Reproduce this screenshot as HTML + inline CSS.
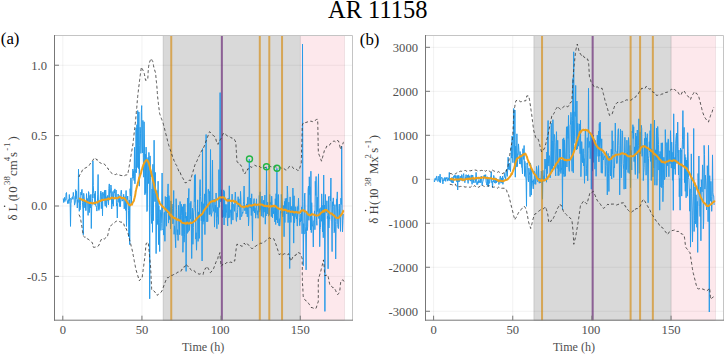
<!DOCTYPE html>
<html><head><meta charset="utf-8"><style>
html,body{margin:0;padding:0;background:#fff;width:725px;height:354px;overflow:hidden}
svg{display:block}
text{font-family:"Liberation Serif",serif}
.t{font-size:12.6px;fill:#505050}
.yl text{font-size:12.8px;fill:#444}
.yl text.sup{font-size:8.8px}
</style></head><body>
<svg width="725" height="354" viewBox="0 0 725 354">
<rect width="725" height="354" fill="#fff"/>
<text x="328" y="17.8" textLength="99.5" lengthAdjust="spacingAndGlyphs" style="font-size:25.5px;fill:#000">AR 11158</text>
<text x="0.8" y="44.2" style="font-size:16.8px;fill:#000">(a)</text>
<text x="359.8" y="44.6" style="font-size:16.8px;fill:#000">(b)</text>
<clipPath id="clipa"><rect x="54.5" y="35.5" width="298.0" height="284.7"/></clipPath>
<rect x="163.2" y="35.5" width="137.2" height="284.7" fill="#d9d9d9" stroke="#c2c2c2" stroke-width="0.8"/>
<rect x="300.4" y="35.5" width="44.3" height="284.7" fill="#fde8ec" stroke="#e8d6da" stroke-width="0.6"/>
<line x1="54.5" y1="276.38" x2="352.5" y2="276.38" stroke="#000" stroke-opacity="0.07" stroke-width="0.8"/>
<line x1="54.5" y1="206.00" x2="352.5" y2="206.00" stroke="#000" stroke-opacity="0.07" stroke-width="0.8"/>
<line x1="54.5" y1="135.62" x2="352.5" y2="135.62" stroke="#000" stroke-opacity="0.07" stroke-width="0.8"/>
<line x1="54.5" y1="65.23" x2="352.5" y2="65.23" stroke="#000" stroke-opacity="0.07" stroke-width="0.8"/>
<line x1="62.80" y1="35.5" x2="62.80" y2="320.2" stroke="#000" stroke-opacity="0.07" stroke-width="0.8"/>
<line x1="141.95" y1="35.5" x2="141.95" y2="320.2" stroke="#000" stroke-opacity="0.07" stroke-width="0.8"/>
<line x1="221.10" y1="35.5" x2="221.10" y2="320.2" stroke="#000" stroke-opacity="0.07" stroke-width="0.8"/>
<line x1="300.25" y1="35.5" x2="300.25" y2="320.2" stroke="#000" stroke-opacity="0.07" stroke-width="0.8"/>
<polyline clip-path="url(#clipa)" points="63.3,198.5 63.7,202.5 64.1,199.6 64.5,197.4 64.9,201.5 65.3,199.2 65.7,199.6 66.1,193.2 66.5,192.5 66.9,199.8 67.3,200.8 67.7,203.6 68.1,201.2 68.5,199.6 68.9,203.5 69.3,194.5 69.7,200.6 70.1,198.1 70.5,226.4 70.9,203.8 71.3,200.7 71.7,199.1 72.1,197.2 72.5,196.7 72.9,199.3 73.3,192.4 73.7,196.0 74.1,196.6 74.5,205.1 74.9,203.8 75.3,202.1 75.7,189.6 76.1,198.7 76.5,191.2 76.9,199.7 77.3,208.0 77.7,199.7 78.1,202.4 78.5,169.2 78.9,197.0 79.3,211.3 79.7,199.3 80.1,209.8 80.5,205.4 80.9,192.2 81.3,195.1 81.7,189.8 82.1,189.3 82.5,202.6 82.9,209.1 83.3,234.8 83.7,193.3 84.1,196.7 84.5,203.2 84.9,207.9 85.3,201.3 85.7,210.5 86.1,210.6 86.5,193.6 86.9,203.0 87.3,198.5 87.7,202.8 88.1,215.4 88.5,191.6 88.9,193.0 89.3,212.6 89.7,197.1 90.1,195.2 90.5,207.8 90.9,194.3 91.3,228.5 91.7,206.3 92.1,204.6 92.5,198.5 92.9,161.0 93.3,185.5 93.7,193.5 94.1,198.2 94.5,193.7 94.9,204.8 95.3,191.1 95.7,205.8 96.1,206.0 96.5,207.6 96.9,211.1 97.3,204.0 97.7,194.9 98.1,174.5 98.5,209.8 98.9,210.4 99.3,209.7 99.7,201.3 100.1,201.2 100.5,192.7 100.9,191.1 101.3,208.7 101.7,196.3 102.1,192.7 102.5,215.8 102.9,192.2 103.3,193.6 103.7,195.9 104.1,200.7 104.5,190.4 104.9,204.0 105.3,206.2 105.7,190.0 106.1,200.4 106.5,207.4 106.9,196.7 107.3,200.5 107.7,195.4 108.1,201.5 108.5,204.8 108.9,188.4 109.3,183.9 109.7,199.1 110.1,192.5 110.5,192.7 110.9,185.0 111.3,187.7 111.7,208.9 112.1,200.6 112.5,203.7 112.9,191.5 113.3,206.2 113.7,195.0 114.1,190.3 114.5,193.0 114.9,188.9 115.3,199.1 115.7,197.5 116.1,190.0 116.5,206.0 116.9,203.6 117.3,218.0 117.7,202.6 118.1,194.0 118.5,198.3 118.9,202.4 119.3,195.6 119.7,206.6 120.1,200.7 120.5,206.6 120.9,192.7 121.3,190.2 121.7,194.5 122.1,201.2 122.5,199.8 122.9,200.7 123.3,198.6 123.7,194.3 124.1,208.9 124.5,208.2 124.9,196.6 125.3,198.3 125.7,210.4 126.1,190.5 126.5,226.4 126.9,200.2 127.3,199.8 127.7,196.0 128.1,201.9 128.5,210.3 128.9,237.0 129.3,200.0 129.7,244.6 130.1,188.7 130.5,195.9 130.9,177.9 131.3,203.9 131.7,194.8 132.1,179.4 132.5,176.5 132.9,169.0 133.3,178.1 133.7,170.9 134.1,180.5 134.5,147.3 134.9,183.8 135.3,173.7 135.7,168.3 136.1,128.0 136.5,172.7 136.9,124.7 137.3,167.5 137.7,110.5 138.1,114.1 138.5,168.6 138.9,112.0 139.3,186.2 139.7,145.6 140.1,127.2 140.5,133.3 140.9,153.4 141.3,112.6 141.7,105.6 142.1,146.8 142.5,153.0 142.9,120.4 143.3,157.1 143.7,177.2 144.1,121.8 144.5,147.0 144.9,194.8 145.3,154.1 145.7,193.3 146.1,147.1 146.5,165.0 146.9,211.5 147.3,210.4 147.7,160.8 148.1,157.4 148.5,183.5 148.9,152.4 149.3,162.6 149.7,298.8 150.1,155.9 150.5,177.3 150.9,182.2 151.3,213.8 151.7,223.5 152.1,189.0 152.5,232.3 152.9,164.3 153.3,220.7 153.7,192.3 154.1,140.2 154.5,183.2 154.9,201.6 155.3,172.4 155.7,202.7 156.1,253.6 156.5,225.0 156.9,190.5 157.3,218.4 157.7,224.5 158.1,181.2 158.5,244.6 158.9,205.7 159.3,222.3 159.7,251.5 160.1,209.8 160.5,213.0 160.9,230.4 161.3,223.6 161.7,206.9 162.1,173.0 162.5,208.0 162.9,229.8 163.3,228.9 163.7,235.1 164.1,212.3 164.5,212.4 164.9,241.3 165.3,196.5 165.7,205.8 166.1,219.0 166.5,226.2 166.9,197.0 167.3,212.9 167.7,193.6 168.1,183.9 168.5,223.1 168.9,195.6 169.3,199.3 169.7,219.6 170.1,207.6 170.5,228.8 170.9,200.9 171.3,213.6 171.7,205.3 172.1,204.1 172.5,208.3 172.9,223.9 173.3,218.6 173.7,190.5 174.1,234.3 174.5,225.9 174.9,229.8 175.3,238.3 175.7,247.7 176.1,198.7 176.5,209.5 176.9,232.5 177.3,234.9 177.7,229.6 178.1,240.5 178.5,205.4 178.9,212.0 179.3,219.3 179.7,234.7 180.1,201.5 180.5,221.5 180.9,213.8 181.3,204.2 181.7,215.4 182.1,235.7 182.5,206.7 182.9,252.3 183.3,236.5 183.7,204.2 184.1,242.2 184.5,234.8 184.9,203.9 185.3,218.2 185.7,212.4 186.1,271.4 186.5,216.2 186.9,219.1 187.3,233.4 187.7,198.0 188.1,232.2 188.5,196.2 188.9,188.5 189.3,230.6 189.7,225.8 190.1,203.1 190.5,218.9 190.9,201.3 191.3,218.3 191.7,258.5 192.1,223.2 192.5,208.2 192.9,244.3 193.3,227.5 193.7,212.1 194.1,208.3 194.5,175.4 194.9,201.8 195.3,174.5 195.7,239.1 196.1,232.7 196.5,250.2 196.9,236.1 197.3,211.8 197.7,199.8 198.1,241.4 198.5,211.9 198.9,218.3 199.3,238.4 199.7,189.9 200.1,179.6 200.5,196.5 200.9,201.9 201.3,220.8 201.7,201.9 202.1,261.0 202.5,148.6 202.9,224.3 203.3,203.7 203.7,221.4 204.1,220.1 204.5,193.9 204.9,234.6 205.3,205.2 205.7,186.9 206.1,134.5 206.5,206.5 206.9,222.0 207.3,207.1 207.7,221.5 208.1,189.3 208.5,189.3 208.9,194.7 209.3,214.6 209.7,191.3 210.1,214.4 210.5,149.5 210.9,194.3 211.3,216.3 211.7,213.6 212.1,212.7 212.5,160.1 212.9,207.2 213.3,208.6 213.7,211.4 214.1,199.0 214.5,227.1 214.9,209.6 215.3,205.1 215.7,212.5 216.1,193.0 216.5,218.8 216.9,228.7 217.3,207.3 217.7,216.5 218.1,215.3 218.5,224.3 218.9,169.6 219.3,207.4 219.7,201.9 220.1,92.6 220.5,201.8 220.9,199.9 221.3,189.8 221.7,194.4 222.1,217.2 222.5,217.7 222.9,210.1 223.3,216.9 223.7,189.9 224.1,225.0 224.5,191.4 224.9,216.3 225.3,204.4 225.7,217.7 226.1,213.5 226.5,212.6 226.9,204.4 227.3,218.2 227.7,225.9 228.1,198.1 228.5,218.1 228.9,216.5 229.3,185.8 229.7,217.5 230.1,213.8 230.5,210.2 230.9,209.7 231.3,224.2 231.7,203.3 232.1,194.1 232.5,202.7 232.9,220.1 233.3,205.1 233.7,204.3 234.1,206.2 234.5,211.3 234.9,200.5 235.3,192.0 235.7,198.8 236.1,219.5 236.5,221.4 236.9,213.0 237.3,217.1 237.7,209.3 238.1,196.7 238.5,206.7 238.9,198.8 239.3,204.7 239.7,207.1 240.1,219.9 240.5,191.4 240.9,199.2 241.3,216.7 241.7,216.5 242.1,214.5 242.5,212.2 242.9,213.2 243.3,204.5 243.7,201.1 244.1,186.0 244.5,208.5 244.9,210.8 245.3,207.5 245.7,206.3 246.1,214.0 246.5,203.9 246.9,206.7 247.3,216.9 247.7,197.3 248.1,196.9 248.5,225.9 248.9,218.1 249.3,159.2 249.7,197.5 250.1,208.1 250.5,198.2 250.9,204.7 251.3,215.6 251.7,193.8 252.1,220.1 252.5,241.0 252.9,205.3 253.3,211.2 253.7,203.0 254.1,198.6 254.5,212.8 254.9,207.6 255.3,209.8 255.7,218.2 256.1,205.9 256.5,198.8 256.9,212.5 257.3,214.8 257.7,210.7 258.1,218.3 258.5,203.9 258.9,212.2 259.3,195.4 259.7,211.5 260.1,191.8 260.5,209.9 260.9,208.9 261.3,216.2 261.7,198.6 262.1,196.0 262.5,206.9 262.9,216.6 263.3,217.4 263.7,200.2 264.1,212.2 264.5,208.1 264.9,195.1 265.3,224.2 265.7,206.2 266.1,216.0 266.5,166.9 266.9,211.9 267.3,213.9 267.7,202.2 268.1,212.1 268.5,216.2 268.9,207.9 269.3,215.2 269.7,194.5 270.1,202.8 270.5,204.3 270.9,202.2 271.3,216.6 271.7,196.2 272.1,203.5 272.5,217.9 272.9,207.1 273.3,210.8 273.7,213.9 274.1,207.5 274.5,213.8 274.9,221.9 275.3,198.7 275.7,224.5 276.1,193.7 276.5,220.0 276.9,168.4 277.3,215.3 277.7,223.0 278.1,194.8 278.5,194.6 278.9,225.6 279.3,218.7 279.7,226.1 280.1,222.9 280.5,211.3 280.9,213.1 281.3,194.4 281.7,199.3 282.1,204.1 282.5,215.4 282.9,216.9 283.3,205.5 283.7,207.7 284.1,236.7 284.5,201.4 284.9,222.5 285.3,198.5 285.7,210.6 286.1,205.7 286.5,198.3 286.9,214.0 287.3,186.0 287.7,194.8 288.1,222.6 288.5,210.9 288.9,202.1 289.3,219.5 289.7,268.5 290.1,196.9 290.5,209.4 290.9,222.4 291.3,210.7 291.7,206.3 292.1,211.4 292.5,215.6 292.9,188.0 293.3,203.1 293.7,243.1 294.1,195.8 294.5,222.8 294.9,216.9 295.3,216.8 295.7,206.7 296.1,209.7 296.5,219.0 296.9,216.8 297.3,226.1 297.7,206.5 298.1,209.5 298.5,198.2 298.9,212.7 299.3,217.4 299.7,225.6 300.1,219.7 300.5,222.0 300.9,213.8 301.3,220.9 301.7,206.9 302.1,233.8 302.5,44.0 302.9,201.6 303.3,265.7 303.7,223.6 304.1,234.1 304.5,195.0 304.9,193.1 305.3,226.9 305.7,234.2 306.1,269.9 306.5,231.2 306.9,211.7 307.3,230.5 307.7,226.2 308.1,189.4 308.5,186.0 308.9,220.3 309.3,176.8 309.7,194.7 310.1,186.8 310.5,229.9 310.9,171.2 311.3,232.6 311.7,202.7 312.1,216.3 312.5,226.2 312.9,225.9 313.3,247.0 313.7,220.8 314.1,220.8 314.5,210.9 314.9,229.7 315.3,181.3 315.7,195.4 316.1,176.5 316.5,220.3 316.9,225.3 317.3,197.2 317.7,211.6 318.1,189.9 318.5,173.9 318.9,218.6 319.3,208.6 319.7,246.7 320.1,229.2 320.5,227.5 320.9,207.6 321.3,221.3 321.7,193.9 322.1,204.4 322.5,232.0 322.9,205.3 323.3,237.7 323.7,175.0 324.1,224.7 324.5,205.1 324.9,311.4 325.3,194.4 325.7,202.2 326.1,212.3 326.5,212.7 326.9,200.8 327.3,218.6 327.7,216.0 328.1,268.8 328.5,196.6 328.9,228.0 329.3,217.4 329.7,218.8 330.1,196.0 330.5,200.8 330.9,178.0 331.3,220.6 331.7,220.4 332.1,251.6 332.5,201.8 332.9,206.2 333.3,197.9 333.7,206.6 334.1,232.7 334.5,231.4 334.9,204.6 335.3,221.5 335.7,259.0 336.1,224.4 336.5,198.9 336.9,206.2 337.3,191.9 337.7,224.7 338.1,228.2 338.5,228.6 338.9,208.3 339.3,204.0 339.7,218.0 340.1,217.7 340.5,231.4 340.9,198.2 341.3,204.5 341.7,146.3 342.1,208.9 342.5,232.0 342.9,220.6 343.3,214.0" fill="none" stroke="#289be9" stroke-width="1.0" stroke-linejoin="round"/>
<line x1="171.24" y1="35.5" x2="171.24" y2="320.2" stroke="#d48a10" stroke-opacity="0.65" stroke-width="2"/>
<line x1="259.80" y1="35.5" x2="259.80" y2="320.2" stroke="#d48a10" stroke-opacity="0.65" stroke-width="2"/>
<line x1="269.30" y1="35.5" x2="269.30" y2="320.2" stroke="#d48a10" stroke-opacity="0.65" stroke-width="2"/>
<line x1="282.05" y1="35.5" x2="282.05" y2="320.2" stroke="#d48a10" stroke-opacity="0.65" stroke-width="2"/>
<line x1="221.89" y1="35.5" x2="221.89" y2="320.2" stroke="#6a2a78" stroke-opacity="0.68" stroke-width="2"/>
<polyline points="79.0,177.0 79.6,175.2 80.2,174.2 80.8,172.9 81.5,172.3 82.1,170.8 82.7,169.8 83.3,168.5 84.7,168.3 86.2,167.6 87.6,166.7 89.0,165.7 89.8,164.4 90.6,163.1 91.4,162.0 92.2,161.1 93.0,160.2 93.8,158.6 94.6,158.0 95.7,158.4 96.8,160.1 98.0,159.9 99.1,161.8 100.2,162.9 101.5,163.5 102.7,163.1 104.0,164.0 104.8,164.4 105.6,165.7 106.4,167.5 107.2,168.1 108.0,168.2 108.8,170.3 109.8,170.9 110.9,172.5 111.9,173.4 113.0,174.0 114.0,174.5 115.4,174.6 116.8,173.9 118.2,175.1 119.7,175.1 121.1,175.5 122.5,175.6 123.8,176.2 125.2,175.2 126.5,174.9 127.8,174.5 128.0,173.2 128.2,171.8 128.5,170.5 128.7,169.1 128.9,167.8 129.2,166.4 129.4,165.1 129.6,163.8 129.8,162.4 130.1,161.1 130.3,159.7 130.5,158.4 130.7,157.0 131.0,155.7 131.2,154.3 131.4,153.0 131.6,151.7 131.9,150.3 132.1,149.0 132.3,147.7 132.6,146.3 132.8,145.0 133.0,143.7 133.1,142.3 133.3,141.0 133.4,139.6 133.6,138.3 133.7,136.9 133.9,135.6 134.0,134.2 134.2,132.9 134.4,131.6 134.5,130.2 134.7,128.9 134.8,127.5 135.0,126.2 135.1,124.8 135.3,123.5 135.4,122.1 135.6,120.8 135.7,119.5 135.8,118.1 135.9,116.8 136.1,115.4 136.2,114.1 136.3,112.7 136.4,111.4 136.5,110.1 136.6,108.7 136.8,107.4 136.9,106.0 137.0,104.7 137.1,103.4 137.2,102.0 137.3,100.7 137.5,99.3 137.6,98.0 137.7,96.6 137.8,95.3 138.0,94.0 138.1,92.7 138.3,91.4 138.4,90.0 138.6,88.7 138.7,87.4 138.9,86.1 139.1,84.8 139.2,83.5 139.4,82.2 139.5,80.8 139.7,79.5 139.8,78.2 140.0,76.9 140.2,75.5 140.4,74.1 140.6,72.7 140.8,71.2 141.0,69.8 141.2,68.4 141.4,67.0 142.1,68.7 142.8,69.8 143.5,71.5 144.2,73.3 144.5,74.7 144.8,76.1 145.0,77.6 145.3,79.0 145.6,80.4 147.7,79.7 147.8,78.3 147.9,76.9 148.0,75.5 148.1,74.1 148.1,72.6 148.2,71.2 148.3,69.8 148.4,68.4 148.6,66.7 148.9,65.1 149.1,63.4 149.7,62.0 150.2,60.6 150.8,59.3 151.3,58.5 152.0,60.3 152.7,61.3 153.0,62.7 153.3,64.1 153.5,65.6 153.8,67.0 154.1,68.4 154.6,69.8 155.0,71.2 155.5,72.6 155.6,74.0 155.8,75.4 155.9,76.9 156.1,78.3 156.2,79.7 156.3,81.1 156.5,82.5 156.6,84.0 156.8,85.4 156.9,86.8 157.0,88.2 157.1,89.6 157.2,91.0 157.3,92.5 157.4,93.9 157.5,95.3 157.6,96.7 157.8,98.1 157.9,99.5 158.1,100.9 158.3,102.3 158.4,103.7 158.6,105.1 158.8,106.4 158.9,107.8 159.1,109.2 159.3,110.6 159.4,112.0 159.6,113.4 160.0,114.6 160.5,115.9 160.9,117.1 161.3,118.3 161.8,119.5 162.2,120.8 162.7,122.0 163.1,123.2 163.5,124.6 163.8,126.0 164.2,127.4 164.6,128.8 164.9,130.3 165.3,131.7 165.6,133.1 166.0,134.5 166.4,135.9 166.7,137.3 167.1,138.7 167.4,140.2 167.8,141.6 168.1,143.0 168.5,144.4 168.9,145.7 169.4,147.0 169.8,148.4 170.2,149.7 170.7,151.0 171.1,152.3 171.5,153.7 172.0,155.0 172.4,156.3 172.9,157.8 173.5,158.5 174.0,160.7 174.5,161.4 175.1,161.8 175.6,164.1 176.1,164.9 176.7,165.5 177.2,167.8 177.7,168.5 178.3,169.7 178.8,171.2 179.4,172.7 180.1,172.3 180.7,174.0 181.3,175.6 181.9,177.1 182.6,177.8 183.2,178.8 183.8,179.9 184.5,181.6 185.1,182.8 186.4,182.6 187.8,181.0 189.1,180.1 190.4,180.7 190.8,179.4 191.2,178.0 191.5,176.7 191.9,175.3 192.3,174.0 192.7,172.6 193.1,171.3 193.5,169.9 193.8,168.6 194.2,167.2 194.6,165.9 195.1,164.5 195.7,163.3 196.2,161.8 196.8,161.4 197.3,160.3 197.8,158.4 198.4,157.3 198.9,156.3 199.6,155.3 200.3,153.5 201.0,151.6 201.7,151.1 202.4,149.3 203.1,148.7 203.8,147.2 204.3,145.9 204.8,144.6 205.2,143.3 205.7,142.0 206.2,140.7 206.7,139.4 207.1,138.2 207.6,136.9 208.1,135.6 208.6,134.3 209.0,133.0 209.5,131.7 210.4,132.4 211.4,133.5 212.3,134.8 213.2,135.4 214.2,136.0 215.1,137.3 215.7,138.2 216.3,141.1 216.8,142.2 217.4,142.2 218.0,144.4 218.6,142.6 219.2,142.2 219.9,140.3 220.5,139.3 221.1,138.5 221.7,136.9 222.4,135.5 223.0,134.0 223.6,133.0 224.8,133.7 226.1,134.6 227.3,136.1 228.6,136.4 229.8,136.5 231.0,137.8 232.3,138.1 233.5,138.7 234.3,139.0 235.0,140.8 235.8,142.0 235.9,143.4 236.0,144.7 236.0,146.1 236.1,147.5 236.2,148.9 236.3,150.2 236.4,151.6 236.4,153.0 236.5,154.3 236.6,155.7 236.7,157.1 236.7,158.5 236.8,159.8 236.9,161.2 237.9,162.8 239.0,163.0 240.1,164.9 241.1,165.4 241.6,166.5 242.2,167.9 242.7,168.4 243.2,171.5 243.7,171.8 244.3,173.3 244.8,174.0 245.5,172.6 246.2,170.9 246.9,171.2 247.7,168.9 248.4,169.1 249.1,167.0 250.5,166.7 251.9,167.4 253.4,165.9 254.8,165.1 256.2,166.2 257.6,165.6 258.8,166.1 260.0,166.7 261.1,167.9 262.3,167.4 263.5,168.4 264.9,167.5 266.3,167.3 267.8,166.8 269.2,166.5 270.6,166.5 272.0,167.0 273.3,166.6 274.6,167.0 275.9,166.8 277.3,167.5 278.6,168.1 279.9,167.7 281.2,168.0 282.5,168.7 283.9,168.5 285.2,169.7 286.5,170.1 287.6,169.3 288.6,167.6 289.6,166.1 290.7,165.9 291.8,166.5 292.8,167.4 293.8,168.9 294.9,169.0 296.3,169.1 297.8,170.6 299.2,170.1 299.6,168.6 300.0,167.1 300.5,165.7 300.9,164.2 301.3,162.7 301.3,161.4 301.4,160.1 301.4,158.8 301.4,157.5 301.5,156.2 301.5,154.9 301.5,153.6 301.6,152.3 301.6,151.0 301.6,149.7 301.7,148.4 301.7,147.1 301.7,145.8 301.8,144.5 301.8,143.2 301.9,141.9 301.9,140.6 301.9,139.3 302.0,138.0 302.0,136.7 302.0,135.4 302.1,134.1 302.1,132.8 302.1,131.5 302.2,130.2 302.2,128.9 302.2,127.6 302.3,126.3 302.3,125.0 303.0,123.6 304.3,121.8 305.7,122.6 307.0,122.1 308.3,121.7 309.7,121.3 311.0,121.1 312.4,121.7 313.7,120.3 315.0,120.6 316.4,119.5 317.7,119.3 317.7,120.6 317.7,122.0 317.8,123.3 317.8,124.6 317.8,126.0 317.8,127.3 317.9,128.7 317.9,130.0 317.9,131.3 317.9,132.7 318.0,134.0 318.0,135.3 318.0,136.7 318.0,138.0 318.1,139.3 318.1,140.7 318.1,142.0 318.1,143.3 318.2,144.7 318.2,146.0 318.2,147.4 318.2,148.7 318.3,150.0 318.3,151.4 318.3,152.7 318.8,154.1 319.4,155.5 319.9,156.9 320.4,158.4 321.0,159.8 321.5,161.2 321.9,159.9 322.2,158.6 322.6,157.3 322.9,156.0 323.3,154.7 323.6,153.4 324.0,152.1 324.3,150.8 324.7,149.5 325.8,148.4 326.8,146.0 327.8,146.3 328.9,145.3 330.0,144.7 331.0,142.9 332.1,142.3 333.1,141.3 334.2,141.0 335.6,142.0 337.1,140.4 338.5,141.0 338.9,142.4 339.2,143.8 339.6,145.2 339.9,146.7 340.2,148.1 340.6,149.5 341.1,147.8 341.6,145.4 342.1,144.8 342.7,144.6 343.2,142.5 343.7,142.1" fill="none" stroke="#383838" stroke-width="0.85" stroke-dasharray="3 2.4"/>
<polyline points="79.0,214.6 79.8,216.3 80.5,218.0 80.7,219.4 80.9,220.8 81.1,222.1 81.4,223.5 81.6,224.9 81.8,226.3 82.0,227.6 82.2,229.0 82.4,230.4 82.7,231.8 82.9,233.1 83.1,234.5 83.3,235.9 84.7,237.2 86.0,237.0 87.2,238.8 88.3,239.1 89.5,240.5 90.5,241.2 91.5,241.9 92.5,243.0 92.7,244.3 92.8,245.7 93.0,247.0 94.3,247.3 95.7,247.0 97.0,247.0 98.0,246.4 99.0,245.0 99.5,243.7 100.0,242.3 100.5,241.0 101.8,238.7 103.0,238.5 104.4,239.0 105.9,237.6 107.3,237.3 107.6,235.9 107.9,234.6 108.2,233.2 108.5,231.9 108.9,230.5 109.2,229.1 109.5,227.8 109.8,226.4 110.9,225.9 111.9,224.5 113.0,223.5 114.1,223.1 115.1,222.4 116.2,221.0 117.8,221.2 119.3,221.5 120.9,222.2 122.5,222.1 123.1,222.9 123.8,223.8 124.4,226.2 125.1,226.9 125.7,228.5 126.3,228.6 126.8,230.5 127.4,231.8 128.0,233.3 128.3,234.6 128.6,235.9 129.0,237.2 129.3,238.5 129.6,239.8 129.9,241.1 130.2,242.4 130.6,243.6 130.9,244.9 131.2,246.2 131.5,247.5 131.9,248.8 132.2,250.1 132.5,251.4 132.7,252.7 133.0,254.0 133.2,255.3 133.5,256.6 133.7,257.9 134.0,259.2 134.2,260.4 134.4,261.7 134.7,263.0 134.9,264.3 135.2,265.6 135.4,266.9 135.7,268.2 135.9,269.5 136.3,270.8 136.7,272.0 137.0,273.3 137.4,274.5 137.8,275.8 138.2,277.0 138.5,278.3 138.9,279.5 139.3,280.8 140.7,279.0 142.0,278.5 142.2,277.2 142.4,275.8 142.5,274.5 142.7,273.2 142.9,271.9 143.1,270.5 143.2,269.2 143.4,267.9 143.6,266.5 143.8,265.2 143.9,263.9 144.1,262.5 144.3,261.2 144.5,259.9 144.6,258.6 144.8,257.2 145.0,255.9 145.1,254.5 145.2,253.1 145.4,251.8 145.5,250.4 145.6,249.0 145.7,247.6 145.9,246.3 146.0,244.9 146.1,243.5 148.3,242.3 148.4,243.6 148.5,244.9 148.7,246.2 148.8,247.5 148.9,248.9 149.0,250.2 149.1,251.5 149.3,252.8 149.4,254.1 149.5,255.4 149.6,256.7 149.8,258.0 149.9,259.3 150.0,260.6 150.1,262.0 150.2,263.3 150.4,264.6 150.5,265.9 150.6,267.2 150.7,268.5 150.7,269.9 150.8,271.2 150.9,272.5 150.9,273.8 151.0,275.2 151.1,276.5 151.1,277.8 151.2,279.2 151.2,280.5 151.3,281.8 151.4,283.2 151.4,284.5 151.5,285.8 151.6,287.1 151.6,288.5 151.7,289.8 152.8,289.7 154.0,291.3 155.1,292.0 155.9,293.6 156.6,294.1 157.4,295.4 158.5,293.9 159.7,293.4 160.8,292.5 161.9,291.0 162.4,289.7 162.9,288.4 163.4,287.1 163.8,285.8 164.3,284.5 164.8,283.2 165.3,281.9 165.9,280.3 166.5,279.4 167.1,277.7 168.4,277.7 169.7,276.3 170.9,275.4 172.2,275.4 173.5,274.6 174.7,274.2 176.0,274.1 177.2,272.3 178.4,272.1 179.7,271.5 180.9,271.4 181.7,269.4 182.4,269.4 183.2,268.5 183.9,266.8 184.7,266.9 185.4,265.5 186.2,264.0 187.0,265.4 187.9,266.3 188.7,267.7 189.6,267.5 190.4,269.3 191.6,270.3 192.9,271.0 194.1,270.4 195.3,272.3 196.6,272.7 197.8,273.5 199.1,274.2 200.4,273.8 201.8,274.3 203.1,274.6 203.4,273.3 203.7,271.9 204.0,270.6 204.8,269.7 205.6,268.0 206.4,267.8 207.2,266.4 207.8,267.6 208.5,269.2 209.1,269.9 209.8,272.0 210.4,272.7 211.2,272.0 212.0,270.5 212.8,269.9 213.6,268.5 214.1,267.1 214.7,265.7 215.2,264.2 215.7,262.8 216.3,261.4 216.8,260.0 217.3,259.5 217.8,258.5 218.4,255.4 218.9,255.6 219.4,254.1 219.9,252.6 220.0,254.0 220.1,255.4 220.2,256.7 220.3,258.1 220.4,259.5 220.6,260.9 220.7,262.3 220.8,263.6 220.9,265.0 221.0,266.4 222.1,265.3 223.1,263.7 224.2,263.2 225.8,263.6 227.3,262.0 228.9,262.7 230.5,262.1 231.9,262.5 233.3,260.6 234.7,261.1 234.9,259.7 235.0,258.4 235.2,257.0 235.3,255.7 235.5,254.3 235.6,253.0 235.8,251.6 236.0,250.1 236.2,248.6 236.5,247.2 236.7,245.7 236.9,244.2 238.2,244.6 239.6,244.5 240.9,245.9 242.2,246.3 243.2,245.5 244.2,243.1 245.6,244.9 247.1,243.5 248.5,245.2 249.6,245.7 250.6,247.2 251.6,248.5 252.7,248.4 253.8,247.8 254.8,246.4 255.8,246.2 256.9,245.2 258.1,244.7 259.4,244.0 260.6,243.2 261.8,243.3 263.1,242.7 264.3,242.0 265.4,241.1 266.4,240.2 267.5,238.8 268.5,238.4 269.6,237.8 271.0,238.8 272.5,238.4 273.9,238.9 274.4,240.3 274.9,241.7 275.4,243.1 276.0,244.5 276.5,245.9 277.0,247.3 277.4,248.8 277.9,250.3 278.3,251.7 278.8,253.2 279.2,254.7 280.9,253.6 282.6,254.8 284.3,253.7 285.7,254.0 287.2,254.9 288.6,253.7 289.0,255.2 289.4,256.7 289.9,258.1 290.3,259.6 290.7,261.1 291.5,259.8 292.3,258.2 293.1,256.3 293.9,255.8 294.9,255.5 296.0,255.1 297.0,252.6 298.8,252.7 300.5,253.8 300.9,255.1 301.4,256.4 301.8,257.6 302.2,258.9 302.2,260.2 302.2,261.5 302.2,262.8 302.2,264.1 302.3,265.4 302.3,266.7 302.3,268.0 302.3,269.3 302.3,270.6 302.3,271.9 302.3,273.2 302.3,274.5 302.4,275.8 302.4,277.1 302.4,278.4 302.4,279.7 302.4,281.0 302.5,282.3 302.5,283.7 302.6,285.0 302.7,286.3 302.8,287.7 302.9,289.0 302.9,290.3 303.0,291.7 303.1,293.0 303.1,294.3 303.2,295.7 303.3,297.0 304.4,299.3 305.5,300.0 306.5,301.8 307.6,302.1 308.7,303.6 309.5,304.7 310.2,305.9 311.0,307.4 312.7,307.8 314.3,308.7 316.0,308.4 316.5,307.0 316.9,305.6 317.4,304.3 317.8,302.9 318.3,301.5 318.3,300.1 318.3,298.8 318.3,297.4 318.3,296.1 318.3,294.7 318.3,293.3 318.3,292.0 318.3,290.6 318.3,289.2 318.3,287.9 318.3,286.5 318.3,285.1 318.3,283.8 318.3,282.4 318.3,281.1 318.3,279.7 318.7,278.4 319.0,277.2 319.4,275.9 319.8,274.6 320.2,273.3 320.5,272.1 320.9,270.8 321.2,269.4 321.5,268.1 321.9,266.7 322.2,265.4 322.5,264.0 322.9,262.6 323.2,261.3 323.5,259.9 323.6,261.2 323.7,262.5 323.9,263.8 324.0,265.2 324.1,266.5 324.2,267.8 324.3,269.1 324.4,270.4 324.5,271.8 324.7,273.1 324.8,274.4 324.9,275.7 326.4,275.3 327.8,274.8 328.1,276.2 328.4,277.6 328.7,279.0 328.9,280.5 329.2,281.9 329.5,283.3 329.8,284.7 330.8,286.2 331.8,286.4 332.8,287.8 333.7,287.5 334.7,288.8 335.7,290.6 336.4,292.4 337.0,292.9 337.7,294.6 338.7,293.4 339.7,291.6 339.8,290.2 340.0,288.8 340.1,287.4 340.3,285.9 340.4,284.5 340.6,283.1 340.7,281.7 341.7,281.0 342.7,279.7 344.1,281.7" fill="none" stroke="#383838" stroke-width="0.85" stroke-dasharray="3 2.4"/>
<polyline points="79.0,198.9 79.6,198.5 80.5,199.0 81.5,199.4 82.7,200.2 83.9,200.0 85.0,201.1 86.1,201.2 87.1,202.1 88.1,202.4 89.1,202.9 90.2,202.9 91.2,202.8 92.2,203.3 93.2,203.5 94.2,202.7 95.3,202.9 96.4,202.3 97.5,202.5 98.5,201.3 99.4,201.2 100.2,201.1 101.2,200.7 101.8,199.8 103.5,200.1 104.2,199.8 105.1,199.6 106.1,199.4 107.2,199.3 108.3,198.4 109.5,199.3 110.7,198.2 111.9,197.5 113.1,198.1 114.2,198.5 115.3,197.7 116.2,198.3 117.5,198.3 118.7,197.4 119.8,196.9 120.9,197.4 121.9,198.4 122.8,197.9 123.7,197.9 124.6,198.4 125.4,199.6 126.2,200.5 126.9,201.9 127.6,203.0 128.2,203.4 128.8,204.6 129.4,204.9 130.0,205.5 130.7,204.9 131.3,204.3 132.0,204.6 132.6,202.8 133.2,201.8 133.7,201.2 134.2,199.3 134.5,198.1 134.7,197.3 134.9,196.2 135.1,195.9 135.3,194.4 135.4,194.1 135.6,192.3 135.8,191.3 136.0,190.1 136.2,189.4 136.5,188.1 136.7,187.6 137.0,186.0 137.2,185.4 137.5,184.9 137.8,183.2 138.0,182.4 138.3,181.8 138.6,180.4 138.9,178.9 139.2,177.4 139.5,177.9 139.8,176.3 140.1,175.6 140.4,174.0 140.7,173.9 141.1,172.4 141.4,171.1 141.8,169.6 142.2,168.9 142.5,167.4 142.9,166.5 143.3,164.9 143.7,164.4 144.0,163.7 144.4,162.4 144.7,162.2 145.0,161.8 146.1,160.2 147.1,160.1 148.1,161.4 148.4,162.5 148.6,162.3 148.9,163.5 149.1,164.3 149.4,165.4 149.6,166.4 149.9,167.1 150.2,169.3 150.4,169.8 150.7,170.4 151.0,171.8 151.3,173.3 151.5,174.4 151.7,174.6 152.0,176.3 152.2,176.5 152.5,177.7 152.7,179.3 153.0,180.7 153.2,181.1 153.5,182.1 153.7,183.7 154.0,184.0 154.2,185.5 154.5,186.5 154.7,187.8 155.0,188.5 155.3,189.2 155.5,190.4 155.8,190.9 156.1,192.7 156.5,193.3 156.8,194.3 157.1,195.6 157.4,196.8 157.8,198.0 158.1,198.7 158.4,199.9 158.7,200.9 159.0,201.4 159.4,201.8 159.7,203.2 160.4,204.3 161.1,204.6 161.9,205.8 162.6,206.9 163.3,207.0 164.0,208.0 164.8,208.4 165.7,209.7 166.5,210.2 167.2,210.8 168.0,211.9 168.7,212.1 169.2,213.1 169.8,214.9 170.5,214.7 171.3,216.3 172.0,216.1 172.9,217.2 173.8,218.3 174.7,218.1 175.7,218.2 176.7,219.8 177.7,219.3 178.6,219.9 179.5,220.6 180.4,220.6 181.3,222.1 182.2,222.8 183.1,222.9 184.1,223.2 185.0,223.2 186.1,223.8 187.2,222.5 188.3,223.5 189.4,223.5 190.4,222.5 191.5,223.1 192.5,222.5 193.4,222.0 194.3,221.3 195.1,220.7 196.0,219.8 196.8,218.4 197.6,217.9 198.3,217.1 198.9,216.5 199.8,215.5 200.4,215.6 201.0,215.1 202.0,214.0 202.5,213.6 203.0,212.7 203.6,211.2 204.2,210.2 204.8,209.3 205.4,208.7 206.1,207.5 206.8,206.9 207.4,206.3 208.1,204.7 208.7,204.5 209.3,203.4 210.3,202.2 211.2,201.6 212.2,201.5 213.1,200.6 214.0,201.2 214.9,201.2 215.7,199.9 216.6,199.6 217.5,199.5 218.4,198.4 219.2,197.8 220.1,197.2 221.0,197.5 221.8,197.4 222.7,197.2 223.6,197.3 224.5,197.8 225.4,199.6 226.3,199.8 227.3,200.8 228.3,200.7 229.3,200.2 230.4,200.8 231.5,201.2 232.5,200.5 233.6,200.9 234.7,202.0 235.5,201.2 236.4,202.0 237.2,203.4 238.0,203.8 238.8,204.0 239.7,204.6 240.5,205.9 241.4,206.6 242.2,206.8 243.3,206.8 244.3,207.2 245.4,206.6 246.5,206.0 247.6,206.7 248.8,205.3 250.0,205.5 250.9,205.4 251.9,205.8 252.9,204.9 253.9,204.9 255.0,204.2 256.0,204.9 257.1,204.8 258.1,204.8 259.1,204.3 260.0,204.7 261.1,204.4 262.2,204.8 263.2,205.2 264.2,206.0 265.2,205.7 266.1,206.2 267.1,206.1 268.0,206.3 269.1,206.3 270.2,206.4 271.3,206.6 272.3,205.8 273.3,206.3 274.2,205.6 275.0,206.1 275.9,206.3 276.4,207.2 278.0,208.1 278.7,208.8 279.5,208.7 280.4,209.3 281.3,209.0 282.4,209.4 283.5,210.3 284.6,209.4 285.7,210.0 286.8,210.5 287.9,211.4 288.9,210.8 289.8,211.5 290.7,211.9 292.0,211.6 293.2,211.8 294.4,212.6 295.5,212.0 296.5,212.0 297.5,212.7 298.4,212.2 299.2,212.8 300.5,212.1 301.4,210.5 302.3,210.5 303.4,210.3 304.1,210.4 304.9,211.6 305.8,211.4 306.7,212.4 307.5,213.6 308.4,214.8 309.1,214.6 309.7,215.4 310.9,215.1 312.0,214.0 312.8,214.5 313.8,214.5 314.9,215.1 316.0,215.7 317.2,215.4 318.3,215.3 319.1,214.8 319.9,214.2 320.7,213.1 321.5,212.4 322.3,212.0 323.1,210.9 323.9,211.7 324.7,210.0 325.6,210.4 326.5,210.0 327.3,210.9 328.2,211.4 329.1,212.2 330.0,213.4 331.0,213.4 331.9,213.6 332.8,214.8 333.8,215.2 334.8,216.2 335.8,217.5 336.8,217.8 337.7,218.1 338.5,217.9 339.2,217.3 339.9,216.1 340.6,215.6 341.3,214.6 341.9,214.0 342.4,213.0 342.9,211.8 343.4,210.6 343.7,210.3" fill="none" stroke="#efa01a" stroke-width="2.0" stroke-linejoin="round"/>
<circle cx="249.5" cy="159" r="3.0" fill="none" stroke="#22b545" stroke-width="1.4"/>
<circle cx="266.5" cy="166.7" r="3.0" fill="none" stroke="#22b545" stroke-width="1.4"/>
<circle cx="277" cy="168.2" r="3.0" fill="none" stroke="#22b545" stroke-width="1.4"/>
<line x1="54.5" y1="35.5" x2="352.5" y2="35.5" stroke="#c4c4c4" stroke-width="1"/>
<line x1="352.5" y1="35.5" x2="352.5" y2="320.2" stroke="#c4c4c4" stroke-width="1"/>
<line x1="54.5" y1="35.0" x2="54.5" y2="320.7" stroke="#777" stroke-width="1"/>
<line x1="54.0" y1="320.2" x2="353.0" y2="320.2" stroke="#777" stroke-width="1"/>
<line x1="54.5" y1="276.38" x2="59.0" y2="276.38" stroke="#777" stroke-width="1"/>
<line x1="54.5" y1="206.00" x2="59.0" y2="206.00" stroke="#777" stroke-width="1"/>
<line x1="54.5" y1="135.62" x2="59.0" y2="135.62" stroke="#777" stroke-width="1"/>
<line x1="54.5" y1="65.23" x2="59.0" y2="65.23" stroke="#777" stroke-width="1"/>
<line x1="62.80" y1="320.2" x2="62.80" y2="315.7" stroke="#777" stroke-width="1"/>
<line x1="141.95" y1="320.2" x2="141.95" y2="315.7" stroke="#777" stroke-width="1"/>
<line x1="221.10" y1="320.2" x2="221.10" y2="315.7" stroke="#777" stroke-width="1"/>
<line x1="300.25" y1="320.2" x2="300.25" y2="315.7" stroke="#777" stroke-width="1"/>
<text x="47.0" y="280.7" text-anchor="end" class="t">-0.5</text>
<text x="47.0" y="210.3" text-anchor="end" class="t">0.0</text>
<text x="47.0" y="139.9" text-anchor="end" class="t">0.5</text>
<text x="47.0" y="69.5" text-anchor="end" class="t">1.0</text>
<text x="62.80" y="334.0" text-anchor="middle" class="t">0</text>
<text x="141.95" y="334.0" text-anchor="middle" class="t">50</text>
<text x="220.10" y="334.0" text-anchor="middle" class="t">100</text>
<text x="300.25" y="334.0" text-anchor="middle" class="t">150</text>
<clipPath id="clipb"><rect x="425.5" y="35.5" width="298.0" height="284.7"/></clipPath>
<rect x="534.0" y="35.5" width="137.2" height="284.7" fill="#d9d9d9" stroke="#c2c2c2" stroke-width="0.8"/>
<rect x="671.2" y="35.5" width="44.3" height="284.7" fill="#fde8ec" stroke="#e8d6da" stroke-width="0.6"/>
<line x1="425.5" y1="311.28" x2="723.5" y2="311.28" stroke="#000" stroke-opacity="0.07" stroke-width="0.8"/>
<line x1="425.5" y1="267.28" x2="723.5" y2="267.28" stroke="#000" stroke-opacity="0.07" stroke-width="0.8"/>
<line x1="425.5" y1="223.29" x2="723.5" y2="223.29" stroke="#000" stroke-opacity="0.07" stroke-width="0.8"/>
<line x1="425.5" y1="179.30" x2="723.5" y2="179.30" stroke="#000" stroke-opacity="0.07" stroke-width="0.8"/>
<line x1="425.5" y1="135.31" x2="723.5" y2="135.31" stroke="#000" stroke-opacity="0.07" stroke-width="0.8"/>
<line x1="425.5" y1="91.32" x2="723.5" y2="91.32" stroke="#000" stroke-opacity="0.07" stroke-width="0.8"/>
<line x1="425.5" y1="47.32" x2="723.5" y2="47.32" stroke="#000" stroke-opacity="0.07" stroke-width="0.8"/>
<line x1="433.60" y1="35.5" x2="433.60" y2="320.2" stroke="#000" stroke-opacity="0.07" stroke-width="0.8"/>
<line x1="512.75" y1="35.5" x2="512.75" y2="320.2" stroke="#000" stroke-opacity="0.07" stroke-width="0.8"/>
<line x1="591.90" y1="35.5" x2="591.90" y2="320.2" stroke="#000" stroke-opacity="0.07" stroke-width="0.8"/>
<line x1="671.05" y1="35.5" x2="671.05" y2="320.2" stroke="#000" stroke-opacity="0.07" stroke-width="0.8"/>
<polyline clip-path="url(#clipb)" points="434.1,180.6 434.5,182.0 434.9,178.5 435.3,178.2 435.7,180.1 436.1,180.2 436.5,176.3 436.9,176.1 437.3,180.7 437.7,181.4 438.1,181.3 438.5,178.7 438.9,176.0 439.3,179.5 439.7,182.2 440.1,174.2 440.5,182.6 440.9,179.0 441.3,178.0 441.7,177.2 442.1,177.6 442.5,179.7 442.9,183.9 443.3,179.8 443.7,180.8 444.1,178.1 444.5,177.6 444.9,180.7 445.3,177.6 445.7,181.4 446.1,178.1 446.5,179.0 446.9,177.2 447.3,178.4 447.7,181.1 448.1,179.0 448.5,177.9 448.9,180.3 449.3,172.4 449.7,180.6 450.1,178.0 450.5,180.4 450.9,181.5 451.3,179.9 451.7,182.5 452.1,177.2 452.5,182.9 452.9,181.9 453.3,182.9 453.7,175.9 454.1,176.9 454.5,175.3 454.9,178.1 455.3,178.5 455.7,175.3 456.1,175.9 456.5,181.6 456.9,180.4 457.3,175.8 457.7,190.0 458.1,175.2 458.5,181.6 458.9,175.6 459.3,181.7 459.7,178.3 460.1,178.0 460.5,176.3 460.9,180.6 461.3,179.0 461.7,174.6 462.1,175.9 462.5,181.1 462.9,179.7 463.3,175.5 463.7,173.6 464.1,178.2 464.5,181.8 464.9,182.7 465.3,179.9 465.7,176.5 466.1,174.6 466.5,179.7 466.9,180.1 467.3,175.1 467.7,177.8 468.1,183.4 468.5,174.7 468.9,180.1 469.3,179.0 469.7,175.8 470.1,180.8 470.5,181.0 470.9,177.3 471.3,174.9 471.7,181.1 472.1,184.3 472.5,175.0 472.9,175.5 473.3,182.7 473.7,178.1 474.1,182.4 474.5,182.0 474.9,182.5 475.3,182.5 475.7,178.5 476.1,172.4 476.5,178.1 476.9,184.6 477.3,182.2 477.7,184.4 478.1,181.1 478.5,182.9 478.9,179.5 479.3,182.4 479.7,181.1 480.1,182.8 480.5,178.6 480.9,182.7 481.3,176.1 481.7,177.9 482.1,185.5 482.5,183.0 482.9,181.3 483.3,179.8 483.7,177.1 484.1,175.3 484.5,177.0 484.9,174.8 485.3,177.7 485.7,174.7 486.1,182.0 486.5,183.5 486.9,185.0 487.3,176.7 487.7,185.5 488.1,180.3 488.5,186.7 488.9,177.6 489.3,183.4 489.7,183.0 490.1,179.5 490.5,178.1 490.9,175.9 491.3,171.7 491.7,182.5 492.1,181.7 492.5,187.7 492.9,180.9 493.3,181.9 493.7,175.4 494.1,177.0 494.5,182.9 494.9,182.3 495.3,183.3 495.7,177.9 496.1,178.0 496.5,182.7 496.9,180.8 497.3,181.6 497.7,179.0 498.1,181.0 498.5,182.2 498.9,184.5 499.3,182.8 499.7,181.5 500.1,176.6 500.5,176.1 500.9,183.2 501.3,182.4 501.7,177.9 502.1,183.0 502.5,176.1 502.9,184.3 503.3,179.2 503.7,178.2 504.1,177.5 504.5,173.3 504.9,176.7 505.3,176.9 505.7,180.0 506.1,170.6 506.5,169.5 506.9,173.8 507.3,176.4 507.7,169.2 508.1,157.2 508.5,169.1 508.9,169.0 509.3,169.8 509.7,163.1 510.1,168.0 510.5,171.5 510.9,160.9 511.3,146.6 511.7,158.1 512.1,136.0 512.5,156.6 512.9,162.7 513.3,144.9 513.7,108.5 514.1,143.0 514.5,168.1 514.9,110.0 515.3,177.2 515.7,146.1 516.1,167.1 516.5,164.1 516.9,133.8 517.3,166.7 517.7,153.8 518.1,154.4 518.5,143.9 518.9,149.7 519.3,161.1 519.7,164.0 520.1,151.5 520.5,156.6 520.9,164.2 521.3,154.4 521.7,167.6 522.1,168.1 522.5,173.9 522.9,148.7 523.3,158.2 523.7,159.4 524.1,145.5 524.5,176.3 524.9,161.3 525.3,165.2 525.7,177.1 526.1,179.0 526.5,206.3 526.9,163.0 527.3,162.7 527.7,165.3 528.1,178.4 528.5,181.8 528.9,168.1 529.3,171.8 529.7,175.2 530.1,196.7 530.5,163.1 530.9,166.3 531.3,195.1 531.7,169.7 532.1,181.9 532.5,180.8 532.9,186.1 533.3,188.9 533.7,179.6 534.1,184.2 534.5,171.4 534.9,173.2 535.3,179.2 535.7,184.4 536.1,177.7 536.5,166.4 536.9,170.1 537.3,180.4 537.7,181.7 538.1,180.3 538.5,165.6 538.9,177.6 539.3,183.2 539.7,178.1 540.1,181.4 540.5,182.9 540.9,179.8 541.3,171.1 541.7,173.8 542.1,178.4 542.5,199.2 542.9,170.3 543.3,181.1 543.7,181.2 544.1,175.8 544.5,180.0 544.9,159.1 545.3,168.8 545.7,163.9 546.1,159.0 546.5,182.2 546.9,152.0 547.3,173.6 547.7,136.7 548.1,120.5 548.5,163.1 548.9,166.1 549.3,155.6 549.7,157.5 550.1,177.9 550.5,176.4 550.9,150.8 551.3,123.3 551.7,169.4 552.1,140.9 552.5,171.8 552.9,119.7 553.3,140.1 553.7,166.1 554.1,134.3 554.5,134.8 554.9,142.3 555.3,167.1 555.7,175.9 556.1,146.7 556.5,131.7 556.9,165.8 557.3,168.5 557.7,140.3 558.1,175.7 558.5,165.2 558.9,175.4 559.3,149.0 559.7,157.2 560.1,171.6 560.5,149.1 560.9,173.5 561.3,168.1 561.7,169.6 562.1,160.0 562.5,209.7 562.9,138.9 563.3,174.1 563.7,137.9 564.1,176.7 564.5,139.9 564.9,157.5 565.3,176.3 565.7,158.7 566.1,147.9 566.5,126.8 566.9,167.0 567.3,136.2 567.7,126.5 568.1,138.4 568.5,115.4 568.9,167.9 569.3,171.4 569.7,153.5 570.1,125.6 570.5,124.2 570.9,112.3 571.3,116.7 571.7,158.7 572.1,171.3 572.5,120.8 572.9,78.5 573.3,172.8 573.7,51.8 574.1,143.3 574.5,136.2 574.9,111.8 575.3,116.4 575.7,85.4 576.1,144.3 576.5,149.8 576.9,101.0 577.3,149.1 577.7,123.3 578.1,144.6 578.5,146.2 578.9,132.6 579.3,123.9 579.7,138.6 580.1,153.7 580.5,120.3 580.9,176.7 581.3,162.7 581.7,141.6 582.1,150.7 582.5,162.7 582.9,149.9 583.3,148.8 583.7,166.0 584.1,158.6 584.5,183.3 584.9,153.4 585.3,130.5 585.7,132.0 586.1,175.9 586.5,168.4 586.9,163.9 587.3,137.7 587.7,180.9 588.1,150.2 588.5,88.3 588.9,147.5 589.3,145.7 589.7,141.4 590.1,158.7 590.5,154.0 590.9,132.8 591.3,189.2 591.7,139.7 592.1,137.6 592.5,171.1 592.9,137.4 593.3,135.0 593.7,162.4 594.1,138.9 594.5,142.9 594.9,169.2 595.3,140.4 595.7,144.2 596.1,176.3 596.5,147.5 596.9,147.9 597.3,135.1 597.7,146.8 598.1,156.4 598.5,131.0 598.9,161.9 599.3,123.5 599.7,156.2 600.1,122.0 600.5,139.0 600.9,146.2 601.3,172.7 601.7,138.8 602.1,173.3 602.5,170.4 602.9,153.4 603.3,159.9 603.7,158.8 604.1,156.9 604.5,157.1 604.9,155.4 605.3,176.4 605.7,165.7 606.1,153.3 606.5,151.3 606.9,166.5 607.3,194.9 607.7,166.0 608.1,153.4 608.5,173.8 608.9,191.5 609.3,157.7 609.7,156.2 610.1,161.5 610.5,175.9 610.9,164.9 611.3,149.1 611.7,179.0 612.1,130.7 612.5,153.9 612.9,140.9 613.3,166.7 613.7,177.5 614.1,166.3 614.5,168.0 614.9,151.6 615.3,123.0 615.7,151.5 616.1,151.2 616.5,163.2 616.9,163.7 617.3,162.9 617.7,140.1 618.1,129.9 618.5,128.7 618.9,145.7 619.3,158.8 619.7,194.9 620.1,167.7 620.5,129.2 620.9,151.7 621.3,177.8 621.7,164.6 622.1,130.8 622.5,132.3 622.9,151.9 623.3,163.8 623.7,169.8 624.1,189.2 624.5,154.7 624.9,137.3 625.3,152.3 625.7,189.0 626.1,153.1 626.5,169.5 626.9,140.2 627.3,151.2 627.7,155.9 628.1,172.6 628.5,137.5 628.9,143.2 629.3,173.5 629.7,156.5 630.1,145.4 630.5,187.7 630.9,150.3 631.3,154.3 631.7,170.0 632.1,131.2 632.5,133.0 632.9,124.7 633.3,138.5 633.7,126.7 634.1,161.6 634.5,146.9 634.9,163.3 635.3,174.5 635.7,133.0 636.1,155.0 636.5,136.3 636.9,149.8 637.3,130.0 637.7,178.5 638.1,154.0 638.5,145.3 638.9,118.8 639.3,173.3 639.7,142.6 640.1,131.9 640.5,153.8 640.9,151.3 641.3,125.3 641.7,128.6 642.1,156.3 642.5,145.7 642.9,146.7 643.3,180.6 643.7,172.6 644.1,167.7 644.5,138.4 644.9,162.8 645.3,132.2 645.7,141.1 646.1,175.2 646.5,137.9 646.9,140.7 647.3,133.7 647.7,174.1 648.1,202.8 648.5,158.6 648.9,155.9 649.3,141.7 649.7,151.8 650.1,130.6 650.5,161.4 650.9,123.8 651.3,180.5 651.7,148.9 652.1,153.7 652.5,152.1 652.9,176.9 653.3,155.3 653.7,168.0 654.1,133.4 654.5,120.1 654.9,185.2 655.3,153.2 655.7,149.8 656.1,159.7 656.5,128.2 656.9,185.3 657.3,170.1 657.7,126.5 658.1,136.3 658.5,144.3 658.9,170.1 659.3,154.2 659.7,210.2 660.1,151.4 660.5,159.0 660.9,186.9 661.3,142.9 661.7,187.7 662.1,182.7 662.5,142.8 662.9,201.7 663.3,185.3 663.7,157.4 664.1,157.3 664.5,179.7 664.9,178.3 665.3,129.6 665.7,146.2 666.1,154.4 666.5,176.9 666.9,142.6 667.3,165.8 667.7,146.0 668.1,138.9 668.5,139.5 668.9,176.7 669.3,150.7 669.7,152.5 670.1,163.6 670.5,130.7 670.9,146.8 671.3,168.1 671.7,142.1 672.1,152.6 672.5,180.3 672.9,152.2 673.3,210.3 673.7,113.8 674.1,169.1 674.5,157.6 674.9,160.7 675.3,174.5 675.7,143.2 676.1,136.4 676.5,133.0 676.9,163.5 677.3,153.3 677.7,122.1 678.1,146.8 678.5,175.0 678.9,150.0 679.3,196.8 679.7,178.5 680.1,210.2 680.5,148.0 680.9,152.1 681.3,149.8 681.7,196.1 682.1,149.8 682.5,139.3 682.9,110.6 683.3,148.6 683.7,144.6 684.1,127.4 684.5,182.6 684.9,154.5 685.3,191.3 685.7,157.5 686.1,197.8 686.5,160.0 686.9,166.0 687.3,196.2 687.7,132.7 688.1,151.7 688.5,177.7 688.9,179.6 689.3,189.6 689.7,211.2 690.1,188.9 690.5,247.1 690.9,216.7 691.3,153.9 691.7,193.7 692.1,210.2 692.5,241.9 692.9,215.8 693.3,196.8 693.7,128.5 694.1,231.5 694.5,220.6 694.9,187.0 695.3,186.8 695.7,224.0 696.1,194.8 696.5,212.0 696.9,227.3 697.3,201.4 697.7,252.4 698.1,173.5 698.5,190.0 698.9,156.0 699.3,206.0 699.7,206.2 700.1,216.5 700.5,187.1 700.9,240.8 701.3,179.7 701.7,186.0 702.1,191.8 702.5,164.9 702.9,169.7 703.3,228.8 703.7,221.9 704.1,145.4 704.5,154.5 704.9,189.1 705.3,175.2 705.7,180.1 706.1,187.1 706.5,209.9 706.9,199.6 707.3,165.7 707.7,175.6 708.1,221.7 708.5,145.4 708.9,179.6 709.3,312.0 709.7,175.7 710.1,196.7 710.5,201.1 710.9,181.4 711.3,196.3 711.7,211.3 712.1,199.3 712.5,154.9 712.9,192.7 713.3,196.0 713.7,195.8 714.1,205.0" fill="none" stroke="#289be9" stroke-width="1.0" stroke-linejoin="round"/>
<line x1="542.04" y1="35.5" x2="542.04" y2="320.2" stroke="#d48a10" stroke-opacity="0.65" stroke-width="2"/>
<line x1="630.60" y1="35.5" x2="630.60" y2="320.2" stroke="#d48a10" stroke-opacity="0.65" stroke-width="2"/>
<line x1="640.10" y1="35.5" x2="640.10" y2="320.2" stroke="#d48a10" stroke-opacity="0.65" stroke-width="2"/>
<line x1="652.85" y1="35.5" x2="652.85" y2="320.2" stroke="#d48a10" stroke-opacity="0.65" stroke-width="2"/>
<line x1="592.69" y1="35.5" x2="592.69" y2="320.2" stroke="#6a2a78" stroke-opacity="0.68" stroke-width="2"/>
<polyline points="449.8,173.6 451.3,173.6 452.8,174.6 454.3,174.1 455.4,174.1 456.6,172.8 457.7,171.9 459.0,171.9 460.3,171.2 461.6,171.3 462.9,170.7 464.2,170.6 465.6,170.5 466.9,171.4 468.2,170.8 469.5,170.7 470.8,170.8 472.2,170.3 473.5,170.1 474.9,170.0 476.2,170.2 477.5,171.0 478.9,170.7 480.2,170.7 481.5,170.4 482.8,170.6 484.1,169.9 485.5,171.4 486.8,170.0 488.1,170.7 489.4,170.9 490.7,172.3 492.1,169.9 493.4,170.7 494.7,171.3 496.0,171.9 497.4,172.3 498.7,171.6 500.1,172.8 501.4,173.2 502.8,173.6 503.9,172.9 505.1,170.8 506.2,171.3 506.8,169.8 507.3,168.3 507.9,166.8 508.1,165.4 508.3,164.0 508.5,162.6 508.7,161.2 509.0,159.9 509.2,158.5 509.4,157.1 509.6,155.7 509.8,154.3 510.0,153.0 510.2,151.7 510.5,150.4 510.7,149.1 510.9,147.8 511.1,146.5 511.4,145.1 511.6,143.8 511.8,142.5 512.0,141.2 512.3,139.9 512.5,138.6 512.7,137.3 512.8,136.0 512.8,134.6 512.9,133.3 512.9,132.0 513.0,130.7 513.1,129.3 513.1,128.0 513.2,126.7 513.2,125.3 513.3,124.0 513.4,122.7 513.4,121.3 513.5,120.0 513.5,118.7 513.6,117.4 513.7,116.0 513.7,114.7 513.8,113.4 513.8,112.0 513.9,110.7 514.2,109.3 514.5,107.9 514.8,106.5 515.0,105.0 515.3,103.6 515.6,102.2 515.9,100.8 517.9,99.9 519.1,100.7 520.3,101.7 521.6,101.6 522.8,101.8 524.3,100.9 525.8,100.8 526.1,99.2 526.5,97.5 526.8,95.9 528.7,95.9 529.0,97.5 529.4,99.2 529.7,100.8 529.9,102.2 530.1,103.6 530.3,105.0 530.5,106.4 530.7,107.8 530.9,109.1 531.1,110.5 531.3,111.9 531.5,113.3 531.7,114.7 531.9,116.0 532.0,117.3 532.2,118.7 532.4,120.0 532.5,121.3 532.7,122.6 532.9,123.9 533.0,125.2 533.2,126.5 533.4,127.9 533.5,129.2 533.7,130.5 534.1,131.9 534.5,133.3 534.9,134.7 535.3,136.1 535.7,137.5 536.7,138.1 537.6,138.0 538.6,140.4 538.9,141.7 539.3,143.1 539.6,144.4 539.9,145.7 540.3,147.1 540.6,148.4 541.1,150.2 541.6,151.9 542.4,151.1 543.2,150.6 544.0,149.0 544.8,147.6 545.1,146.3 545.4,145.1 545.8,143.8 546.1,142.5 546.4,141.2 546.7,140.0 547.0,138.7 547.4,137.4 547.7,136.2 548.0,134.9 548.3,133.6 548.5,132.2 548.8,130.9 549.1,129.6 549.3,128.3 549.6,127.0 549.9,125.6 550.1,124.3 550.4,123.0 550.7,121.7 550.9,120.3 551.2,119.0 551.8,116.1 552.4,116.2 553.1,115.2 553.7,113.7 554.3,112.7 554.9,112.0 555.6,109.2 556.2,108.5 556.9,107.9 557.5,106.3 558.6,107.9 559.6,108.5 560.7,109.5 561.8,109.0 562.8,107.7 563.9,106.3 565.5,105.6 567.2,106.8 568.8,106.0 569.5,104.5 570.3,102.6 571.0,102.5 571.8,101.0 571.9,99.7 572.0,98.4 572.0,97.1 572.1,95.8 572.2,94.5 572.3,93.2 572.4,91.8 572.4,90.5 572.5,89.2 572.6,87.9 572.7,86.6 572.8,85.3 572.8,84.0 572.9,82.7 573.0,81.4 573.1,80.1 573.1,78.8 573.2,77.4 573.3,76.1 573.4,74.8 573.5,73.5 573.5,72.2 573.6,70.9 573.7,69.6 573.8,68.3 574.0,66.9 574.1,65.6 574.3,64.2 574.4,62.9 574.6,61.5 574.7,60.2 574.8,58.9 575.0,57.5 575.1,56.2 575.3,54.8 575.4,53.5 575.6,52.1 575.7,50.8 576.0,49.4 576.3,48.1 576.7,46.7 577.0,45.4 577.3,44.0 577.6,45.5 578.0,47.0 578.4,48.4 578.7,49.9 579.3,52.1 579.9,52.8 580.4,54.0 581.0,54.7 581.6,55.8 582.9,55.1 584.3,57.5 585.6,57.8 586.6,59.2 587.5,58.9 588.5,61.7 588.6,63.0 588.7,64.3 588.8,65.7 588.8,67.0 588.9,68.3 589.0,69.6 589.1,70.9 589.2,72.2 589.2,73.5 589.3,74.9 589.4,76.2 589.5,77.5 590.0,78.4 590.5,79.5 591.0,81.8 591.5,82.4 592.2,83.7 593.0,85.0 593.7,86.2 594.4,87.3 596.0,87.0 597.7,87.0 599.3,88.5 600.7,88.4 602.1,88.3 602.4,89.6 602.7,90.9 603.0,92.2 603.3,93.5 603.7,94.8 604.0,96.1 604.3,97.4 604.6,98.7 604.9,100.0 605.3,101.4 605.7,102.8 606.2,104.2 606.6,105.6 607.0,107.0 607.4,108.4 607.8,109.8 608.2,111.2 608.7,112.6 609.1,114.0 609.5,115.4 610.8,114.8 612.0,114.6 612.4,113.2 612.9,111.7 613.3,110.3 613.7,108.9 614.2,107.4 614.6,106.0 615.4,104.9 616.2,103.7 617.0,102.7 618.4,102.3 619.8,102.7 621.2,102.3 622.6,101.7 624.0,101.9 625.3,100.5 626.7,99.8 628.0,100.1 629.4,100.5 630.7,100.2 631.7,99.8 632.7,98.2 633.7,98.0 634.6,97.4 635.6,97.2 636.6,95.0 637.4,94.2 638.3,93.8 639.1,92.1 640.0,90.3 640.8,90.0 641.9,88.0 643.0,88.7 644.0,88.3 645.1,88.4 646.2,86.3 647.3,86.9 648.4,88.5 649.6,89.1 650.7,88.8 651.8,91.1 652.9,92.1 654.1,92.6 655.2,92.9 656.4,95.4 657.5,95.3 658.9,94.6 660.3,94.9 661.7,94.1 663.1,93.9 664.5,92.8 666.0,92.4 667.4,92.2 668.8,91.1 670.2,90.2 671.6,89.2 673.0,90.6 674.4,89.1 675.4,90.4 676.3,90.6 677.2,92.1 678.2,92.4 679.1,94.2 680.1,95.3 681.1,94.7 682.2,92.1 683.2,92.6 684.3,91.1 685.1,92.8 685.9,93.4 686.7,94.8 687.6,95.8 688.4,96.9 689.2,97.4 690.0,99.6 690.7,99.2 691.4,96.7 692.1,95.8 692.8,94.3 693.5,93.4 694.2,91.9 695.2,93.1 696.3,93.0 697.4,94.6 698.4,95.3 698.7,96.6 699.1,97.9 699.4,99.2 699.7,100.5 700.1,101.8 700.4,103.1 700.7,104.5 701.0,105.8 701.4,107.1 701.7,108.4 702.0,109.7 702.4,111.0 702.7,112.3 703.3,113.9 703.9,115.4 704.5,117.0 705.3,118.2 706.1,119.2 706.9,121.0 708.5,122.0 708.9,120.7 709.3,119.3 709.8,118.0 710.2,116.7 710.6,115.3 711.0,114.0 711.6,113.3 712.2,111.8 712.8,109.3 713.4,108.2 714.0,107.0" fill="none" stroke="#383838" stroke-width="0.85" stroke-dasharray="3 2.4"/>
<polyline points="449.8,184.3 451.3,184.5 452.8,185.1 454.3,184.3 455.4,184.1 456.6,186.8 457.7,186.6 459.2,186.7 460.6,186.4 462.1,186.5 463.5,186.4 465.0,187.1 466.4,186.9 467.8,187.4 469.2,187.2 470.6,187.1 472.0,185.8 473.4,186.6 474.8,185.6 476.1,187.2 477.5,186.8 478.8,187.3 480.2,186.0 481.5,186.7 482.8,185.4 484.1,186.7 485.5,186.3 486.8,186.1 488.1,186.0 489.4,185.7 490.7,186.4 492.1,186.5 493.4,187.2 494.7,187.0 496.0,187.1 497.4,188.2 498.7,187.1 500.1,188.0 501.4,188.3 502.8,188.2 505.3,188.3 505.9,189.1 506.6,190.2 507.2,192.6 507.9,193.6 508.5,194.6 508.8,195.9 509.1,197.1 509.4,198.4 509.7,199.7 510.1,200.9 510.4,202.2 510.7,203.5 511.0,204.8 511.3,206.0 511.6,207.3 511.9,208.6 512.2,209.8 512.6,211.1 512.9,212.4 513.2,213.7 513.5,214.9 513.8,216.2 514.2,217.5 514.5,218.7 514.8,220.0 515.4,218.7 516.1,217.7 516.7,215.8 517.4,215.1 518.0,213.7 518.8,212.3 519.6,211.7 520.4,211.0 521.2,209.4 522.2,208.2 523.3,207.8 524.3,206.3 525.0,207.1 525.8,208.9 526.5,210.5 526.7,211.8 527.0,213.1 527.2,214.4 527.4,215.7 527.7,216.9 527.9,218.2 528.1,219.5 528.4,220.8 528.6,222.1 529.0,223.4 529.4,224.7 529.9,225.9 530.3,227.2 530.7,228.5 531.0,227.2 531.3,226.0 531.7,224.7 532.0,223.4 532.3,222.2 532.6,220.9 532.9,219.6 533.3,218.3 533.6,217.1 533.9,215.8 534.9,214.0 536.0,213.6 537.0,212.6 538.1,211.7 539.2,210.8 540.5,209.9 541.8,209.0 543.0,209.0 544.3,208.2 545.6,206.6 546.0,208.1 546.4,209.6 546.9,211.0 547.3,212.5 547.7,214.0 547.9,215.4 548.1,216.8 548.2,218.2 548.4,219.6 548.6,221.0 548.8,222.4 549.8,221.0 550.9,221.5 552.0,219.1 553.0,219.3 553.5,217.7 554.1,216.7 554.6,215.7 555.1,213.8 555.7,212.7 556.2,211.9 556.7,210.7 557.2,209.0 557.8,207.8 558.3,207.3 558.8,206.2 559.3,204.4 561.5,205.5 561.9,206.8 562.3,208.1 562.8,209.3 563.2,210.6 563.6,211.9 564.6,212.9 565.7,214.0 566.8,215.0 567.8,216.1 568.8,216.9 569.9,217.9 571.0,218.7 572.0,220.3 572.1,221.6 572.2,222.9 572.4,224.2 572.5,225.5 572.6,226.8 572.7,228.1 572.9,229.4 573.0,230.7 573.1,232.0 573.2,233.4 573.3,234.7 573.3,236.1 573.4,237.5 573.5,238.8 573.6,240.2 573.6,241.6 573.7,242.9 573.8,244.3 574.1,243.0 574.4,241.6 574.7,240.3 575.1,239.0 575.4,237.7 575.7,236.3 576.0,235.0 576.2,233.6 576.5,232.2 576.7,230.7 576.9,229.3 577.2,227.9 577.4,226.5 577.6,225.0 577.9,223.6 578.1,222.2 578.3,220.9 578.5,219.6 578.7,218.2 578.9,216.9 579.1,215.6 579.3,214.3 579.4,212.9 579.6,211.6 579.8,210.3 580.0,209.0 580.2,207.6 580.4,206.3 580.6,205.0 581.4,204.3 582.2,202.9 583.0,201.8 583.8,200.8 584.8,202.0 585.9,203.2 586.9,204.0 587.3,202.7 587.6,201.4 588.0,200.1 588.3,198.8 588.7,197.5 589.0,196.2 589.4,194.9 589.7,193.6 590.1,192.3 591.7,192.6 593.3,191.3 593.8,192.4 594.4,193.5 594.9,195.1 595.4,195.8 596.0,198.2 596.5,198.7 597.2,200.5 598.0,201.2 598.9,202.8 599.9,203.5 600.8,204.8 601.7,206.4 602.7,207.7 603.6,208.3 604.6,207.6 605.5,206.3 606.5,205.5 607.9,204.1 609.3,205.1 610.7,204.1 612.1,204.1 613.6,204.1 615.0,204.8 616.4,205.1 617.8,204.5 619.2,204.1 620.6,202.9 622.0,203.1 623.4,202.7 624.1,204.0 624.8,206.0 625.5,205.9 626.2,208.3 627.4,209.3 628.6,210.6 629.8,211.8 631.4,212.3 633.1,210.7 634.7,211.1 635.8,208.6 636.9,208.6 637.9,208.6 639.0,207.6 639.7,206.6 640.4,205.8 641.1,203.6 641.8,202.0 642.8,200.1 643.9,199.1 644.6,201.0 645.3,201.9 646.0,203.3 646.7,204.8 647.5,205.9 648.2,207.0 648.8,209.0 649.4,209.1 650.1,210.3 650.7,212.1 651.3,213.4 652.1,214.7 652.9,215.6 653.7,216.9 654.5,218.7 655.6,220.0 656.6,221.6 657.7,221.9 658.5,223.6 659.3,224.9 660.1,226.5 660.9,227.1 661.9,227.1 663.0,228.4 664.0,230.3 664.8,231.0 665.6,231.8 666.4,233.0 667.2,234.6 668.3,233.6 669.3,231.8 670.4,231.4 672.0,230.6 673.6,230.3 675.2,229.7 676.7,231.4 678.4,231.4 680.0,232.4 681.0,233.9 682.1,233.7 683.2,235.0 684.2,235.6 684.4,237.0 684.6,238.5 684.8,239.9 685.0,241.3 685.1,242.8 685.3,244.2 685.5,245.7 685.7,247.1 686.6,248.6 687.4,249.1 688.3,250.8 689.1,251.7 690.0,252.7 690.2,254.0 690.4,255.3 690.6,256.6 690.8,258.0 691.0,259.3 691.2,260.6 691.4,261.9 691.6,263.2 691.8,264.5 692.0,265.8 692.2,267.2 692.4,268.5 692.6,269.8 692.8,271.1 693.1,272.4 693.4,273.7 693.8,275.0 694.1,276.3 694.4,277.6 694.7,278.9 695.1,280.2 695.4,281.5 695.7,282.8 696.0,284.1 696.4,285.4 696.7,286.7 697.0,288.0 698.4,288.9 699.9,288.6 701.3,289.4 702.7,289.0 704.1,289.6 705.5,290.2 706.9,290.9 707.8,290.2 708.8,288.9 709.7,288.0 709.8,289.4 709.9,290.8 710.0,292.2 710.2,293.6 710.3,295.1 710.4,296.5 710.5,297.9 710.6,299.3 711.7,298.1 712.9,297.3 714.0,296.5" fill="none" stroke="#383838" stroke-width="0.85" stroke-dasharray="3 2.4"/>
<polyline points="449.8,179.2 450.4,178.9 451.2,179.3 452.1,178.7 453.2,179.6 454.3,179.8 455.4,179.3 456.6,179.6 457.8,179.6 458.9,179.4 460.0,179.2 461.0,178.7 462.0,179.9 463.0,179.3 464.0,180.1 464.9,179.4 465.9,179.1 466.9,178.7 467.9,179.3 468.9,178.5 470.0,179.1 471.0,178.4 472.0,178.5 473.0,177.8 474.0,179.1 475.0,178.2 476.1,178.0 477.1,178.3 478.2,177.7 479.2,178.2 480.3,177.5 481.3,178.1 482.3,177.5 483.4,177.3 484.5,177.7 485.6,177.5 486.7,178.2 487.8,178.1 488.8,178.3 489.8,178.3 490.8,178.2 491.7,178.5 492.6,179.0 493.8,178.8 494.9,178.9 495.9,179.3 496.9,179.9 497.8,180.1 498.6,181.3 499.4,180.5 500.7,180.7 501.8,181.1 502.8,181.3 503.9,180.8 504.8,180.3 505.8,180.0 506.7,179.7 507.6,179.6 508.4,178.3 509.1,177.8 509.8,176.7 510.4,176.1 511.0,175.1 511.5,173.5 512.0,174.0 512.4,172.4 512.9,171.3 513.3,170.2 513.8,169.1 514.1,168.4 514.3,167.6 514.6,166.4 514.9,165.5 515.2,163.6 515.5,162.8 515.9,161.6 516.2,161.0 516.5,160.2 516.9,158.8 517.7,158.2 518.5,157.7 519.4,157.3 520.3,156.2 521.2,156.3 522.3,155.4 523.4,154.2 524.4,154.5 525.4,153.6 525.8,154.4 526.3,155.3 526.6,156.1 527.0,156.9 527.4,158.6 527.8,159.7 528.2,160.6 528.6,161.8 529.0,162.3 529.4,163.0 529.9,165.2 530.3,165.2 530.8,167.4 531.2,167.6 531.6,168.8 532.1,169.6 532.5,170.8 533.1,171.5 533.7,173.3 534.2,173.7 534.8,174.4 535.4,175.0 536.0,176.1 536.6,176.9 537.2,178.5 537.8,179.0 538.5,178.9 539.2,180.6 540.0,179.7 541.0,181.2 542.1,180.0 543.3,180.4 544.5,180.4 545.6,179.6 546.6,178.6 547.3,178.8 548.0,177.0 548.6,176.2 549.1,176.3 549.7,174.5 550.3,173.8 550.9,173.0 551.4,171.9 551.9,171.2 552.4,170.3 553.0,169.4 553.5,168.9 554.1,167.9 554.6,166.8 555.2,166.1 555.7,164.8 556.2,163.9 556.9,162.8 557.6,162.3 558.2,161.5 558.9,160.0 559.6,158.4 560.3,158.2 561.0,158.2 561.9,158.1 562.8,158.4 563.8,159.4 564.8,160.1 565.7,159.7 566.7,160.5 567.5,159.9 568.3,160.0 569.1,160.0 570.0,159.6 570.8,158.5 571.6,157.0 572.4,155.6 572.7,155.2 573.0,153.9 573.3,153.4 573.6,152.7 573.9,151.9 574.3,150.4 574.6,149.6 574.9,148.8 575.2,147.3 575.5,145.5 575.8,145.0 576.1,143.9 576.4,142.6 576.7,141.7 577.0,140.2 577.3,140.2 577.6,139.0 577.8,137.8 578.1,137.4 578.7,135.9 579.2,134.2 579.7,132.5 580.2,131.6 580.7,132.5 581.2,130.8 581.7,130.5 582.3,130.4 583.4,129.7 584.5,130.2 585.8,129.7 586.9,130.6 588.0,130.3 588.8,131.8 589.5,132.4 590.2,133.1 590.8,133.9 591.5,134.9 592.2,136.3 592.6,137.1 593.0,137.4 593.4,139.1 593.8,139.4 594.2,140.9 594.6,141.9 595.0,143.2 595.5,143.9 596.0,145.1 596.5,145.6 597.2,146.3 597.9,147.7 598.7,148.1 599.5,148.7 600.3,149.4 601.2,149.2 602.0,150.5 602.8,150.4 603.5,151.6 604.2,152.3 604.9,153.4 605.5,154.7 606.1,155.6 606.7,156.3 607.4,157.9 608.0,158.9 608.6,159.4 609.2,159.9 610.1,158.9 611.0,159.1 611.8,158.2 612.7,156.6 613.7,156.4 614.8,155.7 615.7,154.8 616.8,154.7 617.8,154.6 619.0,154.5 620.1,154.3 621.2,153.4 622.3,153.3 623.3,153.5 624.4,153.9 625.4,154.1 626.4,154.8 627.4,155.8 628.4,156.3 629.4,156.4 630.4,156.1 631.3,156.2 632.2,156.3 633.2,156.0 634.1,155.6 635.1,154.3 636.0,153.9 636.9,153.0 637.7,151.8 638.4,151.7 639.0,150.6 639.6,150.8 640.2,149.4 640.8,148.0 641.4,147.4 642.0,146.8 642.7,146.7 643.4,146.1 644.2,146.4 645.0,146.3 645.9,147.0 646.8,147.6 647.8,148.2 648.7,148.6 649.6,149.8 650.5,150.0 651.3,151.3 652.2,151.4 653.0,152.1 653.9,153.8 654.7,153.8 655.4,154.8 656.2,155.2 657.0,156.1 657.7,157.0 658.5,157.6 659.3,159.3 660.0,159.5 660.8,160.2 661.5,161.8 662.3,162.2 663.0,161.6 664.0,162.4 665.1,162.8 666.1,161.8 667.2,161.6 668.3,161.3 669.3,160.4 670.4,160.6 671.5,160.9 672.6,160.9 673.7,160.2 674.6,160.3 675.6,160.9 676.4,161.3 677.2,162.2 678.0,162.5 678.9,163.5 679.7,164.2 680.6,164.7 681.5,164.4 682.4,165.7 683.3,166.0 684.2,166.8 684.8,166.7 685.5,167.9 686.1,168.0 686.7,168.3 687.3,170.0 687.9,170.8 688.6,171.8 689.3,173.0 689.7,173.6 690.1,174.8 690.6,175.5 691.0,176.6 691.5,177.8 692.0,178.1 692.4,179.1 692.9,180.4 693.4,180.4 693.8,181.6 694.3,182.8 694.8,183.1 695.2,185.0 695.7,186.2 696.1,186.1 696.6,187.2 697.0,188.8 697.4,189.9 697.8,189.9 698.3,191.6 698.7,192.4 699.1,192.8 699.6,194.3 700.0,195.2 700.4,196.3 700.8,197.2 701.2,197.9 701.6,198.7 702.0,199.4 702.7,200.9 703.4,202.1 704.2,203.1 704.8,203.3 705.5,204.1 706.1,204.8 706.7,206.0 707.3,206.1 708.5,205.9 709.4,205.3 710.5,204.4 711.3,204.1 712.3,202.8 713.3,202.1 714.1,201.7 714.7,200.6" fill="none" stroke="#efa01a" stroke-width="2.0" stroke-linejoin="round"/>
<line x1="425.5" y1="35.5" x2="723.5" y2="35.5" stroke="#c4c4c4" stroke-width="1"/>
<line x1="723.5" y1="35.5" x2="723.5" y2="320.2" stroke="#c4c4c4" stroke-width="1"/>
<line x1="425.5" y1="35.0" x2="425.5" y2="320.7" stroke="#777" stroke-width="1"/>
<line x1="425.0" y1="320.2" x2="724.0" y2="320.2" stroke="#777" stroke-width="1"/>
<line x1="425.5" y1="311.28" x2="430.0" y2="311.28" stroke="#777" stroke-width="1"/>
<line x1="425.5" y1="267.28" x2="430.0" y2="267.28" stroke="#777" stroke-width="1"/>
<line x1="425.5" y1="223.29" x2="430.0" y2="223.29" stroke="#777" stroke-width="1"/>
<line x1="425.5" y1="179.30" x2="430.0" y2="179.30" stroke="#777" stroke-width="1"/>
<line x1="425.5" y1="135.31" x2="430.0" y2="135.31" stroke="#777" stroke-width="1"/>
<line x1="425.5" y1="91.32" x2="430.0" y2="91.32" stroke="#777" stroke-width="1"/>
<line x1="425.5" y1="47.32" x2="430.0" y2="47.32" stroke="#777" stroke-width="1"/>
<line x1="433.60" y1="320.2" x2="433.60" y2="315.7" stroke="#777" stroke-width="1"/>
<line x1="512.75" y1="320.2" x2="512.75" y2="315.7" stroke="#777" stroke-width="1"/>
<line x1="591.90" y1="320.2" x2="591.90" y2="315.7" stroke="#777" stroke-width="1"/>
<line x1="671.05" y1="320.2" x2="671.05" y2="315.7" stroke="#777" stroke-width="1"/>
<text x="418.0" y="315.6" text-anchor="end" class="t">-3000</text>
<text x="418.0" y="271.6" text-anchor="end" class="t">-2000</text>
<text x="418.0" y="227.6" text-anchor="end" class="t">-1000</text>
<text x="418.0" y="183.6" text-anchor="end" class="t">0</text>
<text x="418.0" y="139.6" text-anchor="end" class="t">1000</text>
<text x="418.0" y="95.6" text-anchor="end" class="t">2000</text>
<text x="418.0" y="51.6" text-anchor="end" class="t">3000</text>
<text x="433.60" y="334.0" text-anchor="middle" class="t">0</text>
<text x="512.75" y="334.0" text-anchor="middle" class="t">50</text>
<text x="590.90" y="334.0" text-anchor="middle" class="t">100</text>
<text x="671.05" y="334.0" text-anchor="middle" class="t">150</text>
<text x="203.2" y="350.8" text-anchor="middle" class="t" style="font-size:12.1px">Time (h)</text>
<text x="574" y="350.8" text-anchor="middle" class="t" style="font-size:12.1px">Time (h)</text>
<g transform="translate(16.8,220.6) rotate(-90)" class="yl">
<text x="0.1" y="0">δ</text><text x="9.0" y="0">L</text><circle cx="14.3" cy="-12.2" r="0.8" fill="#333"/>
<text x="19.3" y="0">(</text><text x="21.4" y="0">1</text><text x="27.8" y="0">0</text><text x="35.6" y="-7.2" class="sup">38</text>
<text x="44.6" y="0">cm</text><text x="59.4" y="-7.2" class="sup">4</text>
<text x="63.6" y="0">s</text><text x="69.9" y="-7.2" class="sup">-</text><text x="73.6" y="-7.2" class="sup">1</text>
<text x="80.2" y="0">)</text></g>
<g transform="translate(377.8,224.0) rotate(-90)" class="yl">
<text x="0.3" y="0">δ</text><text x="9.4" y="0">H</text><circle cx="13.5" cy="-12.2" r="0.8" fill="#333"/>
<text x="19.1" y="0">(</text><text x="24.3" y="0">1</text><text x="29.0" y="0">0</text><text x="37.8" y="-7.2" class="sup">38</text>
<text x="49.9" y="0">Mx</text><text x="65.5" y="-7.2" class="sup">2</text>
<text x="71.3" y="0">s</text><text x="75.9" y="-7.2" class="sup">-</text><text x="79.8" y="-7.2" class="sup">1</text>
<text x="84.8" y="0">)</text></g>
</svg>
</body></html>
